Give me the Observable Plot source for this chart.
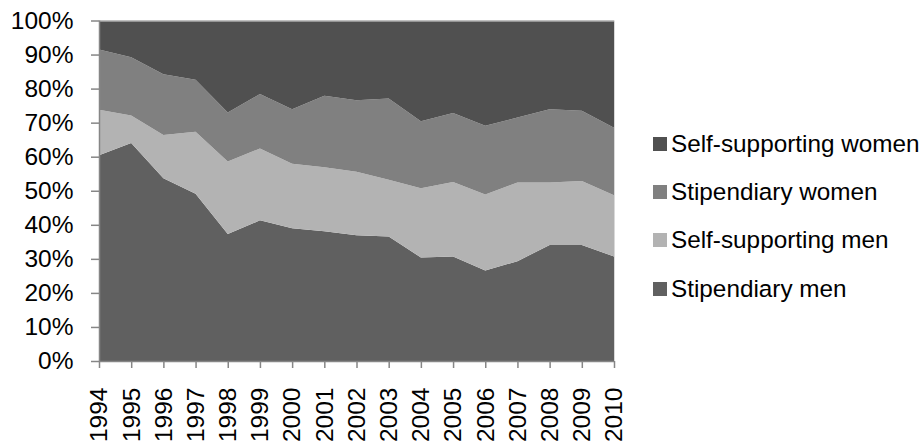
<!DOCTYPE html>
<html><head><meta charset="utf-8">
<script src="https://cdn.jsdelivr.net/npm/d3@7"></script>
<script src="https://cdn.jsdelivr.net/npm/@observablehq/plot@0.6"></script>
<style>
body{margin:0;background:#fff;font-family:"Liberation Sans",Arial,sans-serif;}
#wrap{position:relative;width:923px;height:443px;overflow:hidden;}
#legend{position:absolute;left:653px;top:0;}
.item{position:absolute;left:0;height:28px;line-height:28px;display:flex;align-items:center;white-space:nowrap;font-size:24.3px;color:#000;}
.sw{width:14px;height:14px;margin-right:4px;flex:none;}
</style></head><body><div id="wrap"><div id="legend"></div></div>
<script>
const years = [1994,1995,1996,1997,1998,1999,2000,2001,2002,2003,2004,2005,2006,2007,2008,2009,2010];
const seriesNames = ["Stipendiary men","Self-supporting men","Stipendiary women","Self-supporting women"];
const seriesColors = ["#606060","#b3b3b3","#808080","#505050"];
const stipendiaryMen      = [60.4,64.0,53.7,49.1,37.3,41.3,39.0,38.1,36.9,36.6,30.4,30.7,26.6,29.3,34.1,34.1,30.7];
const selfSupportingMen   = [13.4, 8.1,12.7,18.2,21.3,21.1,18.9,18.8,18.7,16.6,20.3,21.9,22.3,23.1,18.3,18.8,18.0];
const stipendiaryWomen    = [17.7,17.1,17.8,15.3,14.4,16.0,16.0,21.0,21.0,23.9,19.7,20.2,20.2,19.1,21.5,20.6,19.8];
const selfSupportingWomen = [ 8.5,10.8,15.8,17.4,27.0,21.6,26.1,22.1,23.4,22.9,29.6,27.2,30.9,28.5,26.1,26.5,31.5];
const yTicks = [0,10,20,30,40,50,60,70,80,90,100];

const seriesValues = [stipendiaryMen, selfSupportingMen, stipendiaryWomen, selfSupportingWomen];
const data = [];
seriesNames.forEach((name, s) => {
  years.forEach((yr, i) => data.push({year: yr, series: name, value: seriesValues[s][i]}));
});

const axisColor = "#868686";
const chart = Plot.plot({
  width: 923,
  height: 443,
  marginLeft: 99,
  marginRight: 309,
  marginTop: 20.5,
  marginBottom: 82,
  style: {fontFamily: "'Liberation Sans', Arial, sans-serif", fontSize: "24.5px", color: "#000", background: "#fff"},
  x: {domain: [1994, 2010], label: null},
  y: {domain: [0, 100], label: null},
  color: {domain: seriesNames, range: seriesColors},
  marks: [
    Plot.areaY(data, Plot.stackY({order: seriesNames}, {x: "year", y: "value", z: "series", fill: "series", curve: "linear"})),
    Plot.frame({stroke: "#d9d9d9"}),
    Plot.ruleY([0], {stroke: axisColor, strokeWidth: 1.5}),
    Plot.ruleX([1994], {stroke: axisColor, strokeWidth: 1.5}),
    Plot.axisY({ticks: yTicks, tickFormat: d => d + "%", tickSize: 8, tickPadding: 18, stroke: axisColor, strokeWidth: 1.5, fill: "#000", label: null}),
    Plot.axisX({ticks: years, tickFormat: d => String(d), tickSize: 7, tickPadding: 19, tickRotate: -90, textAnchor: "end", stroke: axisColor, strokeWidth: 1.5, fill: "#000", label: null})
  ]
});
document.getElementById("wrap").prepend(chart);

const legend = document.getElementById("legend");
const centers = [143.5, 192, 240.3, 288.8];
const legendOrder = [3, 2, 1, 0];
legendOrder.forEach((s, r) => {
  const item = document.createElement("div");
  item.className = "item";
  item.style.top = (centers[r] - 14) + "px";
  const sw = document.createElement("span");
  sw.className = "sw";
  sw.style.background = seriesColors[s];
  const tx = document.createElement("span");
  tx.textContent = seriesNames[s];
  item.append(sw, tx);
  legend.append(item);
});
</script></body></html>
